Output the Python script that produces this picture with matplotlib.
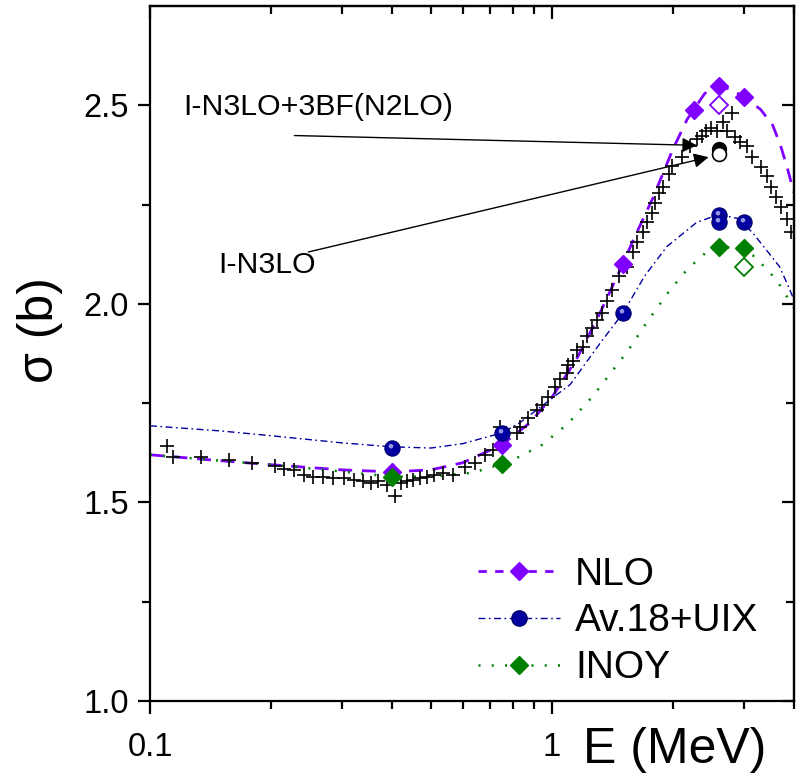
import numpy as np
import matplotlib
matplotlib.use("Agg")
import matplotlib.pyplot as plt
from matplotlib.lines import Line2D
from matplotlib.path import Path

plt.rcParams['font.family'] = ['Liberation Sans', 'DejaVu Sans']

# experimental data (crosses)
exp_E = [0.110, 0.114, 0.134, 0.157, 0.179, 0.205, 0.215, 0.228, 0.241, 0.255,
         0.270, 0.286, 0.303, 0.321, 0.338, 0.354, 0.370, 0.389, 0.408, 0.420,
         0.437, 0.452, 0.470, 0.490, 0.510, 0.536, 0.568, 0.608, 0.644, 0.682,
         0.714, 0.743, 0.819, 0.833, 0.872, 0.918, 0.944, 0.977, 1.017, 1.047,
         1.090, 1.096, 1.127, 1.154, 1.194, 1.221, 1.257, 1.293, 1.330, 1.370,
         1.410, 1.470, 1.535, 1.590, 1.630, 1.680, 1.720, 1.770, 1.800, 1.850,
         1.890, 1.960, 1.990, 2.100, 2.200, 2.290, 2.360, 2.420, 2.490, 2.570,
         2.660, 2.730, 2.800, 2.850, 2.930, 3.050, 3.150, 3.320, 3.420, 3.510,
         3.610, 3.720, 3.850, 3.940]
exp_s = [1.643, 1.615, 1.615, 1.607, 1.600, 1.592, 1.585, 1.582, 1.570, 1.565,
         1.565, 1.562, 1.562, 1.557, 1.553, 1.550, 1.553, 1.545, 1.517, 1.550,
         1.553, 1.557, 1.562, 1.565, 1.568, 1.575, 1.570, 1.590, 1.600, 1.620,
         1.633, 1.690, 1.675, 1.690, 1.713, 1.733, 1.746, 1.766, 1.790, 1.810,
         1.827, 1.847, 1.855, 1.885, 1.892, 1.918, 1.940, 1.960, 1.978, 2.006,
         2.036, 2.069, 2.094, 2.130, 2.157, 2.182, 2.205, 2.230, 2.255, 2.280,
         2.293, 2.326, 2.346, 2.369, 2.397, 2.414, 2.422, 2.434, 2.444, 2.434,
         2.457, 2.434, 2.480, 2.419, 2.407, 2.397, 2.371, 2.344, 2.321, 2.293,
         2.270, 2.245, 2.213, 2.180]

# theory curves
nlo_E = [0.1, 0.15, 0.2, 0.3, 0.4, 0.5, 0.6, 0.75, 0.88, 1.0, 1.15, 1.3, 1.5,
         1.6, 1.78, 2.0, 2.17, 2.4, 2.6, 2.8, 3.0, 3.3, 3.54, 3.7, 3.83, 4.0]
nlo_s = [1.62, 1.605, 1.595, 1.582, 1.577, 1.582, 1.60, 1.645, 1.70, 1.765,
         1.86, 1.965, 2.10, 2.165, 2.265, 2.39, 2.465, 2.53, 2.547, 2.54,
         2.52, 2.49, 2.45, 2.40, 2.35, 2.28]
av_E = [0.1, 0.15, 0.2, 0.3, 0.4, 0.5, 0.6, 0.75, 0.83, 0.95, 1.11, 1.32, 1.5,
        1.7, 1.93, 2.29, 2.6, 2.9, 3.15, 3.45, 3.68, 3.85, 4.0]
av_s = [1.693, 1.68, 1.668, 1.65, 1.64, 1.637, 1.648, 1.675, 1.70, 1.745,
        1.797, 1.902, 1.976, 2.07, 2.144, 2.205, 2.225, 2.215, 2.18, 2.13,
        2.094, 2.05, 2.01]
inoy_E = [0.1, 0.15, 0.2, 0.3, 0.4, 0.5, 0.637, 0.75, 0.83, 0.945, 1.095, 1.26,
          1.42, 1.54, 1.72, 1.95, 2.17, 2.42, 2.6, 2.85, 3.19, 3.62, 4.0]
inoy_s = [1.62, 1.605, 1.595, 1.578, 1.565, 1.565, 1.575, 1.597, 1.615, 1.645,
          1.698, 1.766, 1.834, 1.88, 1.953, 2.03, 2.087, 2.13, 2.145, 2.14,
          2.12, 2.06, 1.99]

# calculated points
nlo_pE = [0.4, 0.75, 1.5, 2.25, 2.6, 3.0]
nlo_ps = [1.577, 1.645, 2.10, 2.487, 2.548, 2.52]
av_pE = [0.4, 0.75, 1.5, 2.6, 2.6, 3.0]
av_ps = [1.638, 1.675, 1.976, 2.225, 2.207, 2.205]
inoy_pE = [0.4, 0.75, 2.6, 3.0]
inoy_ps = [1.565, 1.597, 2.142, 2.14]
open_nlo = (2.6, 2.50)
open_inoy = (3.0, 2.094)
n3lo_3bf = (2.6, 2.39)
n3lo = (2.6, 2.377)

purple = '#8000ff'
navy = '#0000a0'
green = '#008000'

fig = plt.figure(figsize=(7.96, 7.83), dpi=100)
ax = fig.add_axes([150/796, 82/783, 644/796, 695/783])

ax.plot(nlo_E, nlo_s, color=purple, lw=2.0, dashes=(5, 3.5), zorder=2)
ax.plot(av_E, av_s, color=navy, lw=1.0, dashes=(5, 2.5, 1.2, 2.5), zorder=2)
ax.plot(inoy_E, inoy_s, color=green, lw=1.8, dashes=(0.8, 4.5), zorder=2)

ax.plot(exp_E, exp_s, ls='none', marker='+', ms=10.5, mew=1.2, color='k', zorder=3)

# sphere highlight marker
hl = Path.make_compound_path(Path([[-1, -1]], [Path.MOVETO]),
                             Path([[1, 1]], [Path.MOVETO]),
                             Path.circle((-0.2, 0.3), 0.3))

ax.plot(nlo_pE, nlo_ps, ls='none', marker='D', ms=9, color=purple, zorder=4)
ax.plot(inoy_pE, inoy_ps, ls='none', marker='D', ms=9, color=green, zorder=4)
ax.plot(av_pE, av_ps, ls='none', marker='o', ms=11, mfc=navy, mec='#00006a', mew=0.8, zorder=4)
ax.plot(av_pE, av_ps, ls='none', marker=hl, ms=11, mfc='#c8ccff', mec='none', alpha=0.75, zorder=5)
ax.plot(*open_nlo, ls='none', marker='D', ms=9, mfc='white', mec=purple, mew=1.3, zorder=4)
ax.plot(*open_inoy, ls='none', marker='D', ms=9, mfc='white', mec=green, mew=1.3, zorder=4)
ax.plot(*n3lo_3bf, ls='none', marker='o', ms=10, color='k', zorder=5)
ax.plot(*n3lo, ls='none', marker='o', ms=10, mfc='white', mec='k', mew=1.2, zorder=6)

# annotations
ax.annotate('', xy=(2.33, 2.399), xytext=(0.225, 2.424),
            arrowprops=dict(arrowstyle='-|>', color='k', lw=1, mutation_scale=22))
ax.annotate('', xy=(2.49, 2.371), xytext=(0.244, 2.129),
            arrowprops=dict(arrowstyle='-|>', color='k', lw=1, mutation_scale=22))
ax.text(0.121, 2.495, 'I-N3LO+3BF(N2LO)', fontsize=21.8, va='center', ha='left')
ax.text(0.148, 2.099, 'I-N3LO', fontsize=21.8, va='center', ha='left')

ax.set_xscale('log')
ax.set_xlim(0.1, 4)
ax.set_ylim(1.0, 2.75)
ax.set_xticks([0.1, 1])
ax.set_xticklabels(['0.1', '1'])
ax.set_yticks([1.0, 1.5, 2.0, 2.5])
ax.set_yticklabels(['1.0', '1.5', '2.0', '2.5'])
ax.set_yticks([1.25, 1.75, 2.25], minor=True)
ax.xaxis.set_minor_formatter(plt.NullFormatter())

for s in ax.spines.values():
    s.set_linewidth(1.6)
ax.tick_params(which='both', top=False, right=False, direction='out', width=1.6, labelsize=23.5, pad=6)
ax.tick_params(axis='x', which='major', pad=13)
ax.tick_params(which='major', length=9)
ax.tick_params(which='minor', length=6)

# mirrored inward ticks
axt = ax.secondary_xaxis('top')
axt.set_xticks([0.1, 1])
axt.tick_params(which='both', direction='in', width=1.6, labeltop=False)
axt.tick_params(which='major', length=9)
axt.tick_params(which='minor', length=6)
axt.xaxis.set_minor_formatter(plt.NullFormatter())
axt.spines['top'].set_linewidth(1.6)
axr = ax.secondary_yaxis('right')
axr.set_yticks([1.0, 1.5, 2.0, 2.5])
axr.set_yticks([1.25, 1.75, 2.25], minor=True)
axr.tick_params(which='both', direction='in', width=1.6, labelright=False)
axr.tick_params(which='major', length=9)
axr.tick_params(which='minor', length=6)
axr.spines['right'].set_linewidth(1.6)

ax.set_xlabel('E (MeV)', fontsize=36, va='center')
ax.xaxis.set_label_coords(0.815, -0.07)
ax.set_ylabel('σ (b)', fontsize=36, va='center')
ax.yaxis.set_label_coords(-0.171, 0.534)

handles = [
    Line2D([], [], color=purple, lw=2.0, dashes=(3, 3), marker='D', ms=9),
    Line2D([], [], color=navy, lw=1.0, dashes=(5, 2.5, 1.2, 2.5), marker='o', ms=11,
           mfc=navy, mec='#00006a'),
    Line2D([], [], color=green, lw=1.8, dashes=(0.8, 4.5), marker='D', ms=9),
]
ax.legend(handles, ['NLO', 'Av.18+UIX', 'INOY'], loc='upper left',
          bbox_to_anchor=(0.467, 0.247), frameon=False, fontsize=28,
          handlelength=2.1, handletextpad=0.4, labelspacing=0.28, borderpad=0.2)

fig.savefig('out.png', dpi=100)
